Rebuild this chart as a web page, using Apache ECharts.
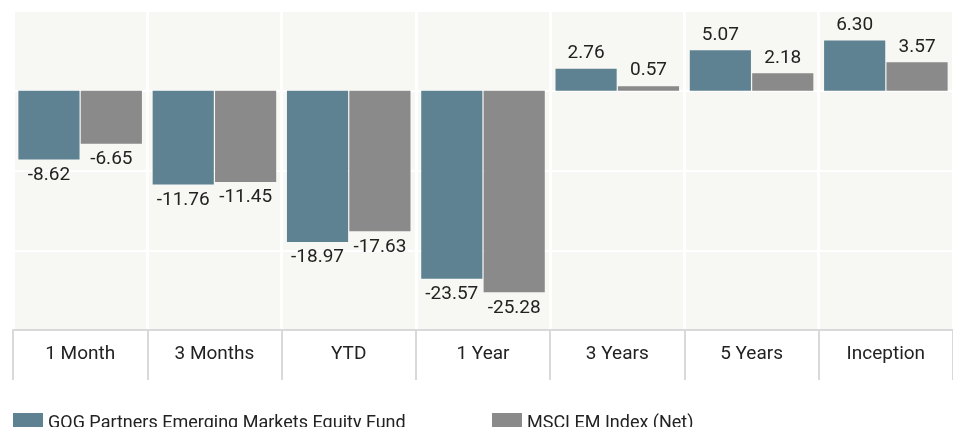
<!DOCTYPE html>
<html>
<head>
<meta charset="utf-8">
<script src="https://cdn.jsdelivr.net/npm/echarts@6/dist/echarts.min.js"></script>
<style>
  html, body { margin: 0; padding: 0; background: #fff; }
  #main { width: 953px; height: 427px; }
</style>
</head>
<body>
<div id="main"></div>
<script>
var categories = ["1 Month", "3 Months", "YTD", "1 Year", "3 Years", "5 Years", "Inception"];
var fundName = "GQG Partners Emerging Markets Equity Fund";
var indexName = "MSCI EM Index (Net)";
var fundValues = [-8.62, -11.76, -18.97, -23.57, 2.76, 5.07, 6.30];
var indexValues = [-6.65, -11.45, -17.63, -25.28, 0.57, 2.18, 3.57];

var FONT = "'Roboto', sans-serif";

function valueLabel() {
  return {
    show: true,
    color: "#222",
    fontFamily: FONT,
    fontSize: 19,
    distance: 6,
    formatter: function (p) { return p.value.toFixed(2); }
  };
}

function seriesData(values) {
  // negative values get their label under the bar
  return values.map(function (v) {
    return { value: v, label: { position: v < 0 ? "bottom" : "top" } };
  });
}

var chart = echarts.init(document.getElementById("main"));
var option = {
  animation: false,
  grid: {
    left: 13, right: 0, top: 11, bottom: 97,
    show: true, backgroundColor: "#f7f7f3", borderWidth: 0
  },
  legend: [
    {
      data: [fundName], left: 8, top: 408,
      itemWidth: 30, itemHeight: 20, icon: "rect", itemGap: 10,
      textStyle: { fontFamily: FONT, fontSize: 18, color: "#222" }
    },
    {
      data: [indexName], left: 487, top: 408,
      itemWidth: 30, itemHeight: 20, icon: "rect",
      textStyle: { fontFamily: FONT, fontSize: 18, color: "#222" }
    }
  ],
  xAxis: {
    type: "category",
    data: categories,
    axisLine: { onZero: false, lineStyle: { color: "#d9d9d9", width: 2 } },
    axisTick: { show: true, length: 50, lineStyle: { color: "#d9d9d9", width: 2 } },
    splitLine: { show: true, lineStyle: { color: "#ffffff", width: 3 } },
    axisLabel: { color: "#222", fontFamily: FONT, fontSize: 19, margin: 15 }
  },
  yAxis: {
    type: "value",
    min: -30, max: 10, interval: 10,
    axisLabel: { show: false },
    axisLine: { show: false },
    axisTick: { show: false },
    splitLine: { lineStyle: { color: "#ffffff", width: 2 } }
  },
  series: [
    {
      name: fundName, type: "bar",
      data: seriesData(fundValues),
      itemStyle: { color: "#5f8293" },
      barGap: "2%", barCategoryGap: "8%",
      label: valueLabel()
    },
    {
      name: indexName, type: "bar",
      data: seriesData(indexValues),
      itemStyle: { color: "#8a8a8a" },
      label: valueLabel()
    }
  ]
};
chart.setOption(option);
</script>
</body>
</html>
